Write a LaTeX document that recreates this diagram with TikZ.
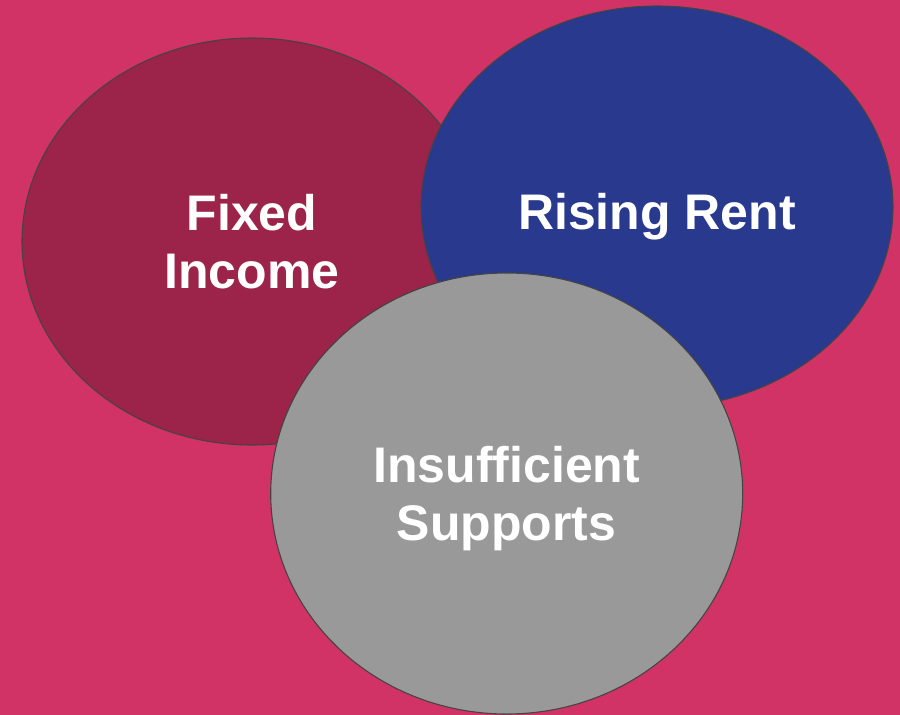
\documentclass[tikz,border=0pt]{standalone}
\usepackage{fontspec}
\setmainfont{Liberation Sans}
\usetikzlibrary{shapes.geometric}
\definecolor{bgpink}{RGB}{210,51,103}
\definecolor{wine}{RGB}{156,35,74}
\definecolor{navy}{RGB}{40,57,142}
\definecolor{midgrey}{RGB}{153,153,153}
\definecolor{rim}{RGB}{68,68,68}
\tikzset{
  blob/.style={ellipse, draw=rim, line width=1.1pt, inner sep=0pt,
    text=white, align=center, text depth=0pt,
    font=\bfseries\fontsize{50}{58}\selectfont}
}
\begin{document}
\begin{tikzpicture}[x=1pt,y=-1pt]
\fill[bgpink] (0,0) rectangle (900,715);
\useasboundingbox (0,0) rectangle (900,715);
\node[blob, fill=wine, minimum width=460pt, minimum height=407pt] (fixed) at (252,241.5) {Fixed\\Income};
\node[blob, fill=navy, minimum width=472pt, minimum height=402pt, text height=44pt] (rent) at (657,207) {Rising Rent};
\node[blob, fill=midgrey, minimum width=472pt, minimum height=441pt] (supp) at (506.7,493.5) {Insufficient\\Supports};
\end{tikzpicture}
\end{document}
